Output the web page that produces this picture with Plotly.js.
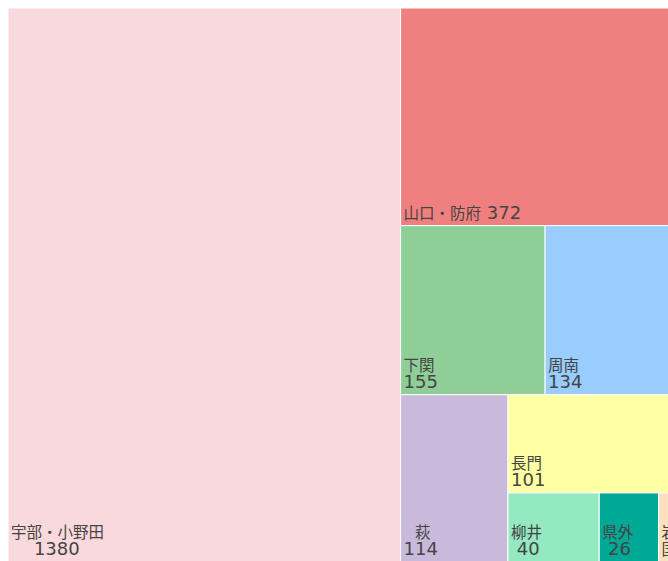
<!DOCTYPE html>
<html>
<head>
<meta charset="utf-8">
<script src="https://cdn.plot.ly/plotly-3.0.1.min.js"></script>
<style>
html,body{margin:0;padding:0;overflow:hidden;background:#fff;}
#chart{width:670px;height:562px;}
</style>
</head>
<body>
<div id="chart"></div>
<script>
const labels = ["宇部・小野田","山口・防府","下関","周南","萩","長門","柳井","県外","岩国"];
const values = [1380, 372, 155, 134, 114, 101, 40, 26, 5];
const colors = ["#fad9dc","#f08080","#90ce98","#99ccff","#c9badb","#ffffa3","#93e9c0","#00a896","#fde0bd"];
const parents = labels.map(() => "");

// text layout helpers: label line and value line, roughly centred on each other
const CJK = 15.5, DIG = 11.4, SP = 5.7;
function pad(n) { return n > 0 ? "&nbsp;".repeat(n) : ""; }
function lab(s) { return "<span style='font-size:15.5px;font-family:Noto Sans CJK JP'>" + s + "</span>"; }
function num(s) { return "<span style='font-size:18px;font-family:DejaVu Sans'>" + s + "</span>"; }
const templates = labels.map((l, i) => {
  const v = String(values[i]);
  if (l === "山口・防府") return lab(l) + num(" " + v);
  if (l === "岩国") return lab(l.split("").join("<br>"));
  const lw = l.length * CJK, vw = v.length * DIG;
  const lp = Math.round(Math.max(0, vw - lw) / 2 / SP);
  const vp = Math.round(Math.max(0, lw - vw) / 2 / SP);
  return num(pad(lp)) + lab(l) + "<br>" + num(pad(vp) + v);
});

Plotly.newPlot("chart", [{
  type: "treemap",
  labels: labels,
  parents: parents,
  values: values,
  texttemplate: templates,
  textposition: "bottom left",
  sort: true,
  hoverinfo: "label+value",
  marker: {colors: colors, line: {color: "#ffffff", width: 1}, pad: {t: 0, l: 0, r: 0, b: 0}},
  textfont: {family: "DejaVu Sans, Noto Sans CJK JP", size: 13, color: "#444444"},
  pathbar: {visible: false},
  tiling: {packing: "squarify", pad: 0}
}], {
  width: 670, height: 562,
  margin: {l: 8, r: 0, t: 8, b: 0},
  paper_bgcolor: "#ffffff",
  uniformtext: {mode: "show", minsize: 13}
}, {displayModeBar: false, staticPlot: true});
</script>
</body>
</html>
